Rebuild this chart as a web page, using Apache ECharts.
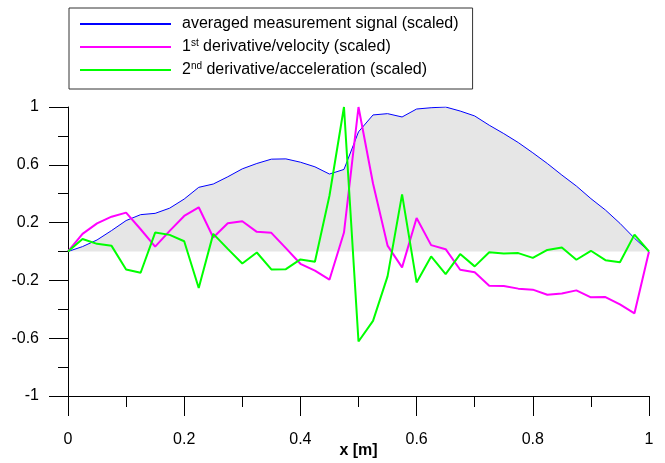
<!DOCTYPE html>
<html>
<head>
    <meta charset="utf-8">
    <script src="https://cdn.jsdelivr.net/npm/echarts@6/dist/echarts.min.js"></script>
    <style>
        html, body { margin: 0; padding: 0; background: #fff; }
        #main { width: 665px; height: 463px; }
    </style>
</head>
<body>
<div id="main"></div>
<script type="text/javascript">
    // x positions [m]
    var xValues = [0, 0.025, 0.05, 0.075, 0.1, 0.125, 0.15, 0.175, 0.2, 0.225,
        0.25, 0.275, 0.3, 0.325, 0.35, 0.375, 0.4, 0.425, 0.45, 0.475,
        0.5, 0.525, 0.55, 0.575, 0.6, 0.625, 0.65, 0.675, 0.7, 0.725,
        0.75, 0.775, 0.8, 0.825, 0.85, 0.875, 0.9, 0.925, 0.95, 0.975, 1];

    var signal = [0, 0.034, 0.08, 0.145, 0.214, 0.255, 0.264, 0.30, 0.363, 0.444,
        0.467, 0.517, 0.572, 0.609, 0.639, 0.641, 0.618, 0.586, 0.536, 0.568,
        0.828, 0.945, 0.954, 0.931, 0.986, 0.995, 1.0, 0.972, 0.938, 0.874,
        0.816, 0.754, 0.683, 0.609, 0.529, 0.453, 0.366, 0.287, 0.195, 0.092, 0];

    var velocity = [0, 0.122, 0.195, 0.241, 0.269, 0.154, 0.034, 0.143, 0.246, 0.306,
        0.097, 0.195, 0.209, 0.136, 0.129, 0.023, -0.085, -0.133, -0.195, 0.131,
        1.0, 0.471, 0.041, -0.110, 0.232, 0.044, 0.016, -0.126, -0.143, -0.237,
        -0.239, -0.257, -0.264, -0.299, -0.290, -0.269, -0.317, -0.315, -0.366, -0.428, 0];

    var acceleration = [0, 0.087, 0.053, 0.039, -0.124, -0.147, 0.131, 0.115, 0.071, -0.253,
        0.122, 0.018, -0.083, -0.007, -0.124, -0.122, -0.055, -0.071, 0.386, 1.0,
        -0.623, -0.480, -0.172, 0.395, -0.214, -0.034, -0.156, -0.018, -0.103, -0.005,
        -0.014, -0.011, -0.044, 0.011, 0.028, -0.057, 0.005, -0.060, -0.074, 0.117, 0];

    var yLabelTicks = [-1, -0.6, -0.2, 0.2, 0.6, 1];
    var yMinorTicks = [-0.8, -0.4, 0, 0.4, 0.8];

    var names = ['averaged measurement signal (scaled)',
        '1st derivative/velocity (scaled)',
        '2nd derivative/acceleration (scaled)'];

    function pairs(ys) {
        var out = [];
        for (var i = 0; i < xValues.length; i++) out.push([xValues[i], ys[i]]);
        return out;
    }

    var font = 'Liberation Sans, Arial, sans-serif';
    var axisColor = '#000';

    var myChart = echarts.init(document.getElementById('main'));
    var option = {
        animation: false,
        textStyle: { fontFamily: font },
        grid: { left: 68, right: 16, top: 107, bottom: 67, outerBoundsMode: 'none', containLabel: false },
        legend: {
            orient: 'vertical',
            left: 69,
            top: 8,
            itemWidth: 91,
            itemHeight: 14,
            itemGap: 5,
            padding: [7, 14, 10, 10],
            borderColor: '#333',
            borderWidth: 1,
            itemStyle: { opacity: 0 },
            data: names,
            formatter: function (name) {
                if (name === names[1]) return '1{sup|st} derivative/velocity (scaled)';
                if (name === names[2]) return '2{sup|nd} derivative/acceleration (scaled)';
                return name;
            },
            textStyle: {
                fontFamily: font,
                fontSize: 16,
                color: '#000',
                lineHeight: 18,
                padding: [0, 0, 0, 6],
                rich: {
                    sup: { fontFamily: font, fontSize: 10, color: '#000', verticalAlign: 'top', lineHeight: 18, padding: [0, 0, 6, 0] }
                }
            }
        },
        xAxis: {
            type: 'value',
            min: 0,
            max: 1,
            interval: 0.2,
            name: 'x [m]',
            nameLocation: 'middle',
            nameGap: 47,
            nameMoveOverlap: false,
            nameTextStyle: { fontFamily: font, fontSize: 16, fontWeight: 'bold', color: '#000' },
            axisLine: { onZero: false, lineStyle: { color: axisColor, width: 1 } },
            axisTick: { length: 20, lineStyle: { color: axisColor } },
            minorTick: { show: true, splitNumber: 2, length: 11, lineStyle: { color: axisColor } },
            axisLabel: { margin: 36, fontSize: 16, color: '#000', fontFamily: font },
            splitLine: { show: false }
        },
        yAxis: [{
            type: 'value',
            min: -1,
            max: 1,
            axisLine: { show: true, lineStyle: { color: axisColor, width: 1 } },
            axisTick: { show: true, length: 19, customValues: yLabelTicks, lineStyle: { color: axisColor } },
            axisLabel: { margin: 29, fontSize: 16, color: '#000', fontFamily: font, customValues: yLabelTicks },
            splitLine: { show: false }
        }, {
            type: 'value',
            min: -1,
            max: 1,
            position: 'left',
            axisLine: { show: false },
            axisTick: { show: true, length: 10, customValues: yMinorTicks, lineStyle: { color: axisColor } },
            axisLabel: { show: false },
            splitLine: { show: false }
        }],
        series: [
            {
                name: names[0],
                type: 'line',
                data: pairs(signal),
                symbol: 'none',
                lineStyle: { color: '#0000ff', width: 1 },
                itemStyle: { color: '#0000ff' },
                areaStyle: { color: '#e6e6e6', opacity: 1 },
                z: 2
            },
            {
                name: names[1],
                type: 'line',
                data: pairs(velocity),
                symbol: 'none',
                lineStyle: { color: '#ff00ff', width: 2 },
                itemStyle: { color: '#ff00ff' },
                z: 3
            },
            {
                name: names[2],
                type: 'line',
                data: pairs(acceleration),
                symbol: 'none',
                lineStyle: { color: '#00ff00', width: 2 },
                itemStyle: { color: '#00ff00' },
                z: 4
            }
        ]
    };
    myChart.setOption(option);
</script>
</body>
</html>
